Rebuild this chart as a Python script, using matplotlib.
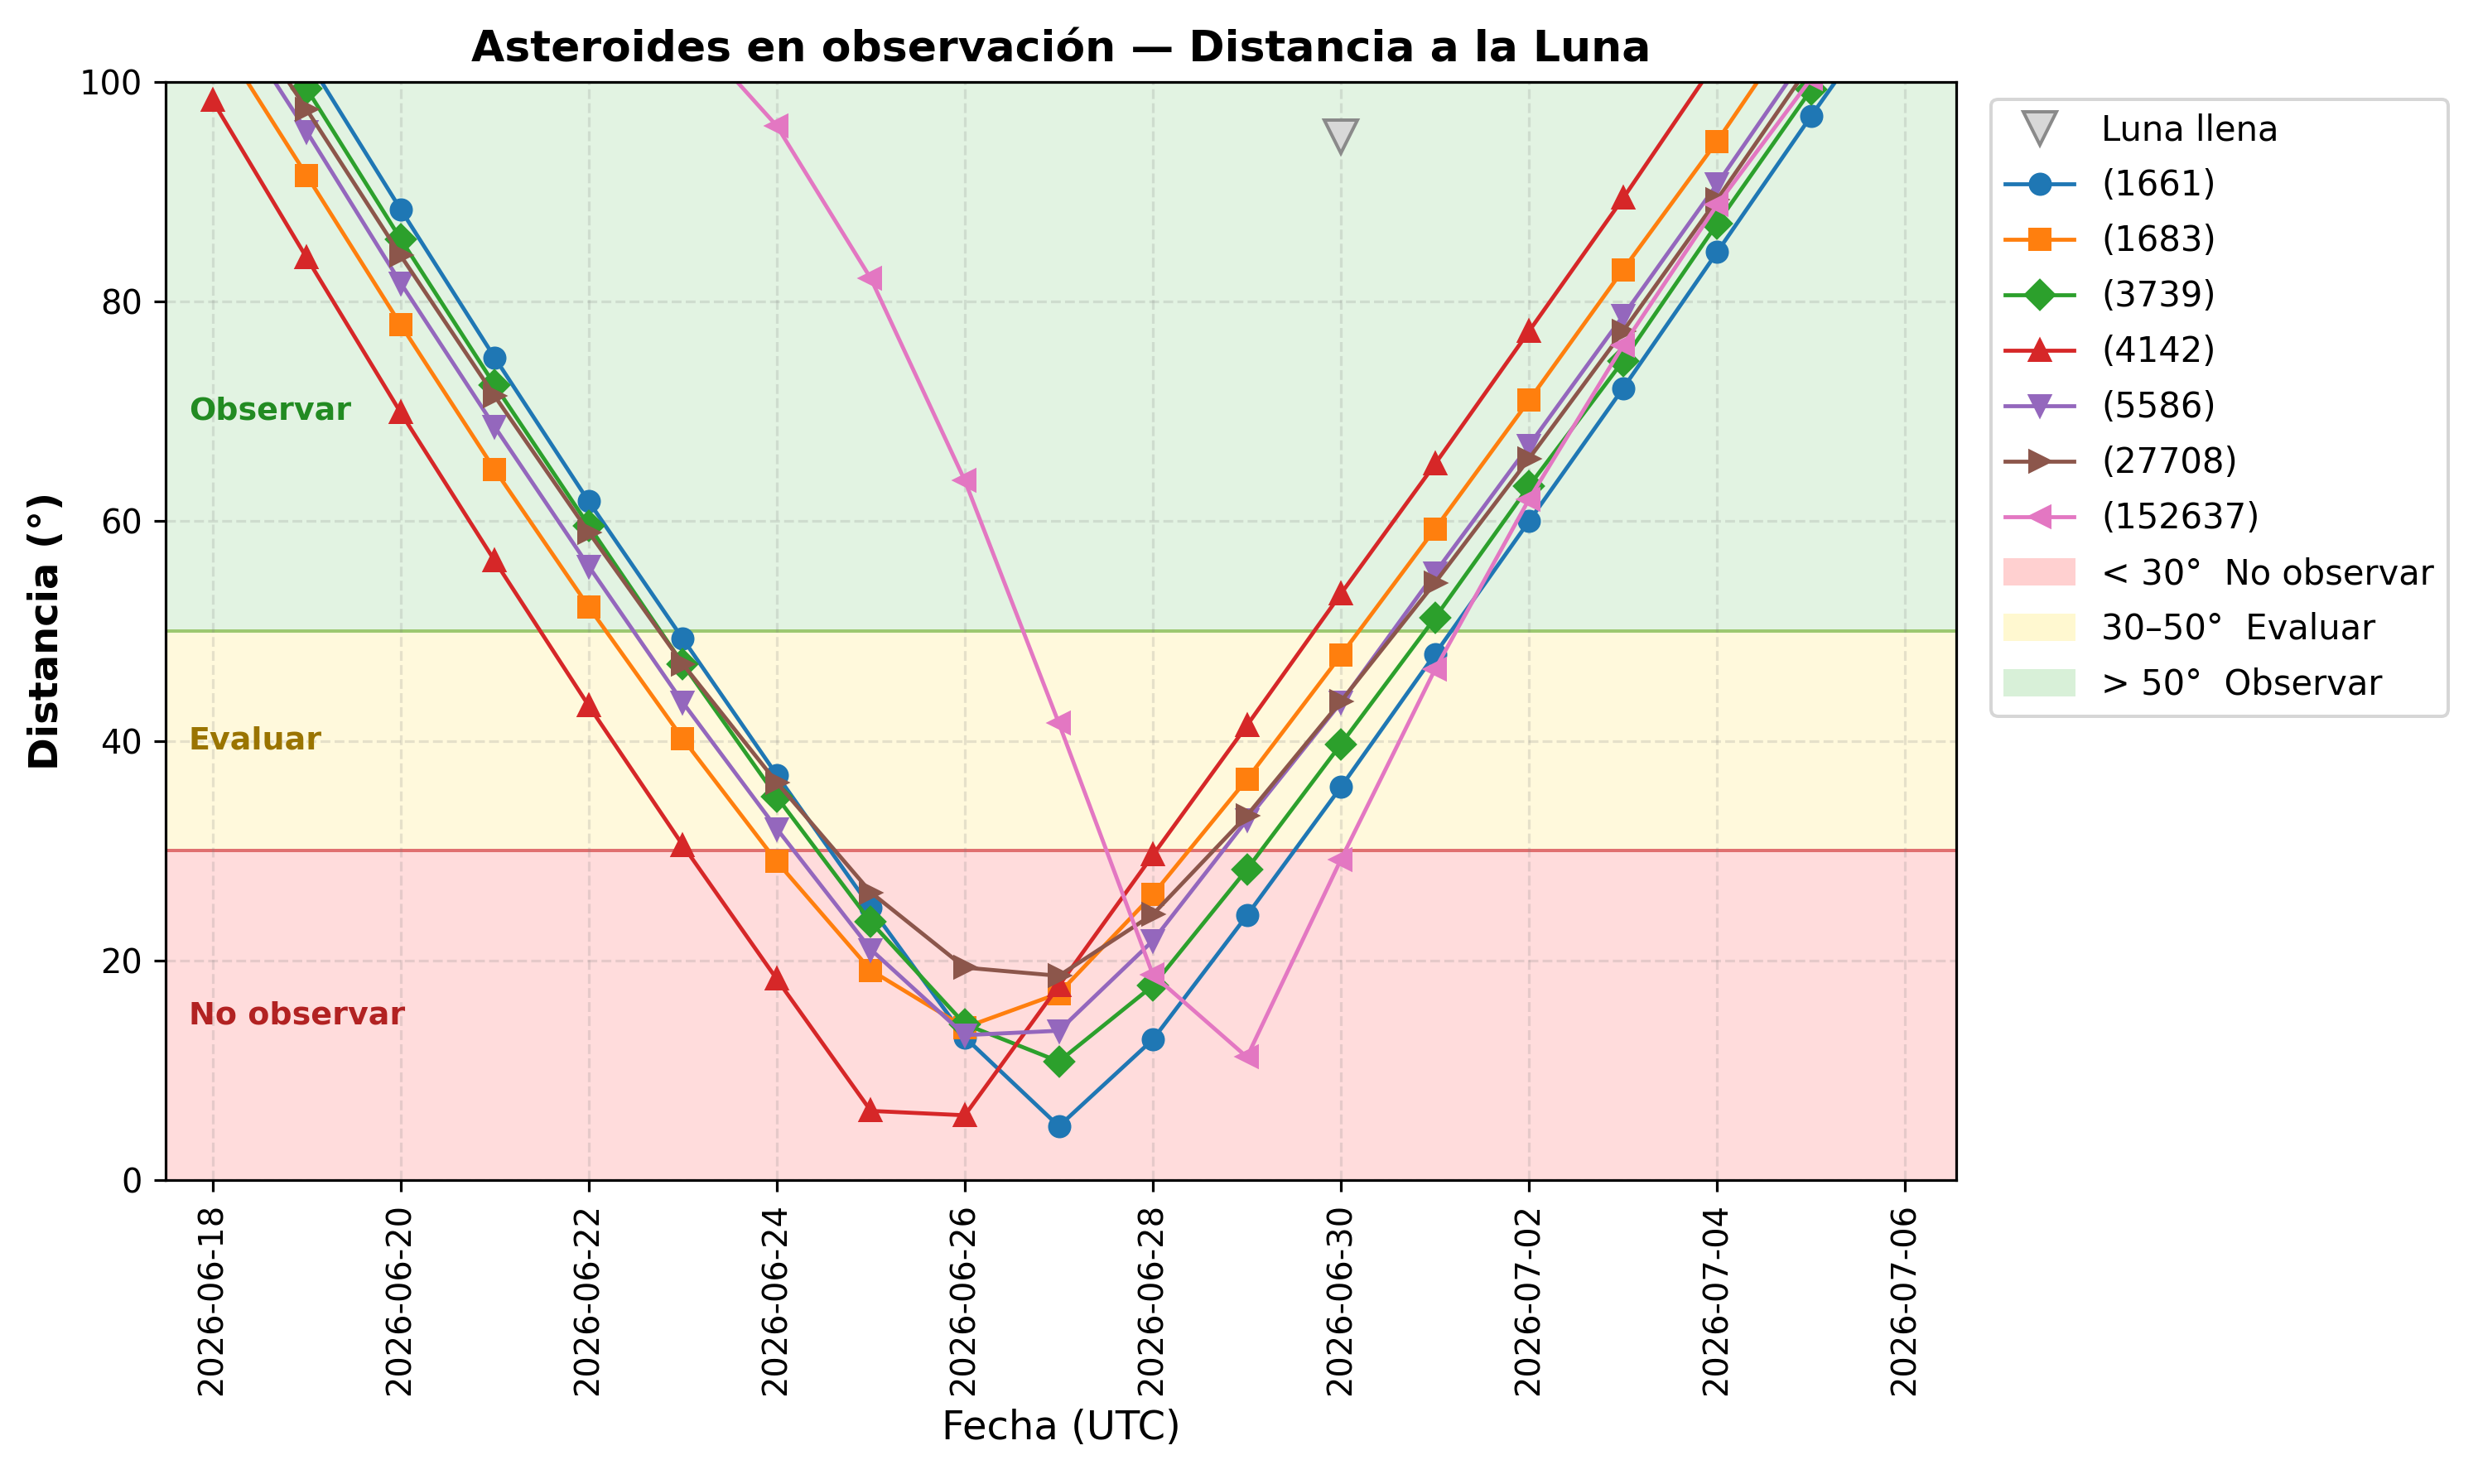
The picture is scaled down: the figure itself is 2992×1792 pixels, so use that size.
import pandas as pd
import numpy as np
import matplotlib
matplotlib.use("Agg")
import matplotlib.pyplot as plt
import matplotlib.dates as mdates
from matplotlib.patches import Patch

# fechas diarias y distancias angulares a la Luna (grados)
fechas = pd.date_range("2026-06-18", "2026-07-06", freq="D")

d_1661 = [115.8, 102.2, 88.4, 74.9, 61.8, 49.3, 36.9, 24.8, 13.0, 4.9,
          12.8, 24.1, 35.8, 47.9, 60.0, 72.1, 84.5, 96.9, 109.0]
d_1683 = [105.0, 91.5, 77.9, 64.7, 52.2, 40.2, 29.0, 19.1, 13.9, 17.0,
          26.0, 36.5, 47.8, 59.3, 71.0, 82.9, 94.6, 107.2, 119.5]
d_3739 = [113.0, 99.4, 85.7, 72.4, 59.6, 47.0, 34.9, 23.5, 14.2, 10.8,
          17.7, 28.3, 39.7, 51.2, 63.2, 74.6, 87.1, 99.3, 111.5]
d_4142 = [98.3, 84.0, 69.9, 56.4, 43.2, 30.5, 18.3, 6.3, 5.9, 17.7,
          29.6, 41.4, 53.4, 65.2, 77.3, 89.4, 102.0, 114.5, 126.5]
d_5586 = [108.8, 95.5, 81.7, 68.6, 55.9, 43.5, 32.0, 21.0, 13.2, 13.6,
          21.8, 32.8, 43.5, 55.3, 66.9, 78.7, 90.7, 103.1, 115.3]
d_27708 = [110.5, 97.5, 84.2, 71.4, 59.0, 47.0, 36.2, 26.2, 19.35, 18.6,
           24.2, 33.2, 43.6, 54.4, 65.7, 77.3, 89.3, 101.7, 113.9]
d_152637 = [146.0, 142.0, 136.0, 128.0, 118.0, 105.5, 96.0, 82.1, 63.7, 41.6,
            18.7, 11.2, 29.2, 46.5, 62.0, 76.0, 88.8, 100.3, 111.5]

nombres = ["(1661)", "(1683)", "(3739)", "(4142)", "(5586)", "(27708)", "(152637)"]
series = [d_1661, d_1683, d_3739, d_4142, d_5586, d_27708, d_152637]
marcadores = ["o", "s", "D", "^", "v", ">", "<"]
colores = ["C0", "C1", "C2", "C3", "C4", "C5", "C6"]

luna_fecha = [pd.Timestamp("2026-06-30")]
luna_valor = [95]

fig = plt.figure(figsize=(2992 / 288, 1792 / 288), dpi=288)
ax = fig.add_axes([0.0668, 0.2048, 0.7226, 0.74])

# zonas
ax.axhspan(0, 30, color="#ffdcdc", zorder=0)
ax.axhspan(30, 50, color="#fff9dc", zorder=0)
ax.axhspan(50, 100, color="#e2f3e2", zorder=0)
ax.axhline(30, color="#e07070", lw=1.0, zorder=0.6)
ax.axhline(50, color="#9cc870", lw=1.0, zorder=0.6)

ax.plot(luna_fecha, luna_valor, linestyle="none", marker="v", markersize=10,
        markerfacecolor="#d8d8d8", markeredgecolor="#8a8a8a", label="Luna llena", zorder=3)

for nom, vals, mk, col in zip(nombres, series, marcadores, colores):
    ax.plot(fechas, vals, marker=mk, markersize=6, lw=1.2, color=col, label=nom, zorder=2)

tr = ax.get_yaxis_transform()
ax.text(0.013, 70, "Observar", transform=tr, color="#228b22", fontsize=9.5,
        fontweight="bold", va="center")
ax.text(0.013, 40, "Evaluar", transform=tr, color="#9a7400", fontsize=9.5,
        fontweight="bold", va="center")
ax.text(0.013, 15, "No observar", transform=tr, color="#b22222", fontsize=9.5,
        fontweight="bold", va="center")

ax.set_ylim(0, 100)
ax.set_xlim(pd.Timestamp("2026-06-17 12:00"), pd.Timestamp("2026-07-06 13:00"))
ax.xaxis.set_major_locator(mdates.DayLocator(interval=2))
ax.xaxis.set_major_formatter(mdates.DateFormatter("%Y-%m-%d"))
plt.setp(ax.get_xticklabels(), rotation=90)
ax.grid(True, linestyle="--", color="gray", alpha=0.2, lw=0.8)

ax.set_title("Asteroides en observación — Distancia a la Luna", fontsize=13, fontweight="bold")
ax.set_xlabel("Fecha (UTC)", fontsize=12)
ax.set_ylabel("Distancia (°)", fontsize=12, fontweight="bold")

handles, labels = ax.get_legend_handles_labels()
handles += [Patch(color="#ffd0d0"), Patch(color="#fff8d0"), Patch(color="#d8f0d8")]
labels += ["< 30°  No observar", "30–50°  Evaluar", "> 50°  Observar"]
ax.legend(handles, labels, loc="upper left", bbox_to_anchor=(1.01, 1), fontsize=10.4,
          labelspacing=0.6)

fig.savefig("out.png", dpi=288)
